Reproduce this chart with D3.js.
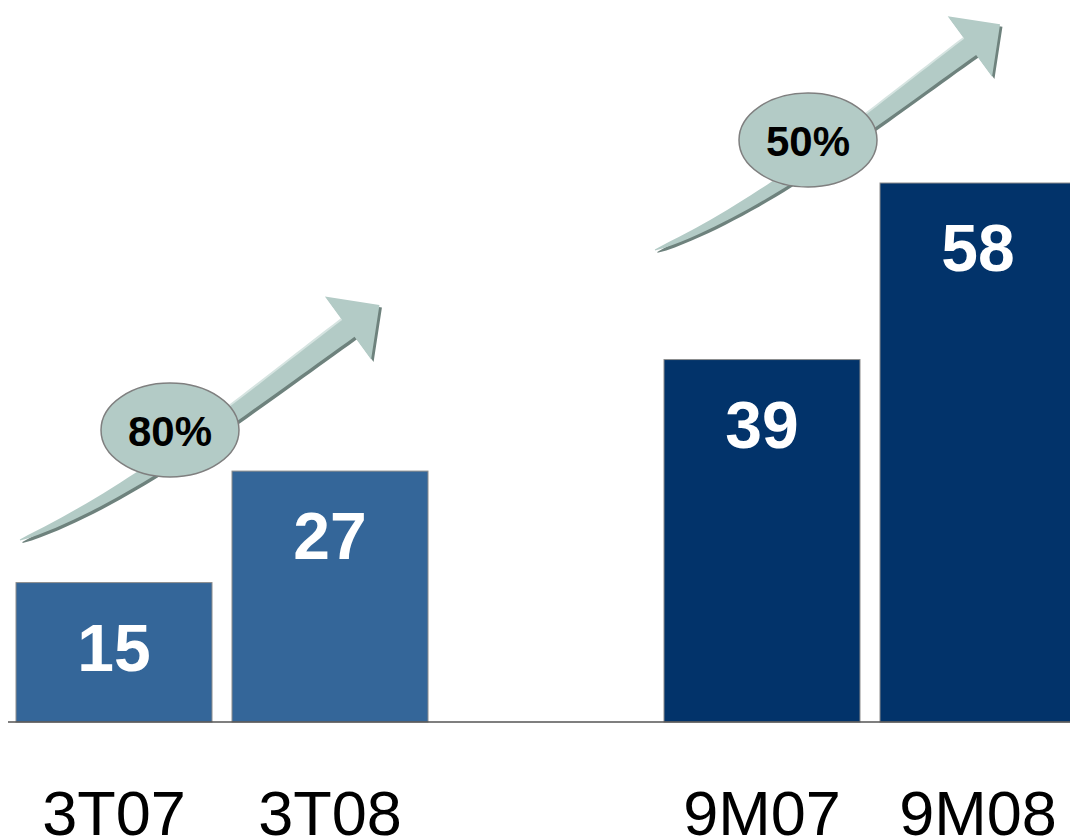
<!DOCTYPE html>
<html>
<head>
<meta charset="utf-8">
<script src="https://cdn.jsdelivr.net/npm/d3@7"></script>
<style>
  body { margin: 0; background: #fff; }
  text { font-family: "Liberation Sans", Arial, sans-serif; }
</style>
</head>
<body>
<script>
// Chart data
const categories = ["3T07", "3T08", " ", "9M07", "9M08"];
const values = [15, 27, null, 39, 58];
const barColors = ["#346699", "#346699", null, "#02336a", "#02336a"];
const growthLabels = ["80%", "50%"];

const width = 1070, height = 840;
const baseY = 722;

const svg = d3.select("body")
    .append("svg")
    .attr("width", width)
    .attr("height", height);

// Scales
const x = d3.scaleBand()
    .domain(categories)
    .range([-4, 1096])
    .paddingInner(20 / 216)
    .paddingOuter(20 / 216);

const y = d3.scaleLinear()
    .domain([0, 58])
    .range([baseY, 183]);

const bars = categories.map((c, i) => ({ cat: c, value: values[i], color: barColors[i] }))
    .filter(d => d.value != null);

// Curved growth arrow, drawn in local coords with tail at (0,0)
function arrowPolygon() {
  const P = [[0, 0], [115, -46], [230, -140], [328, -212]];
  const pts = [];
  const n = 40;
  let up = [], lo = [];
  for (let i = 0; i <= n; i++) {
    const t = i / n, u = 1 - t;
    const px = u*u*u*P[0][0] + 3*u*u*t*P[1][0] + 3*u*t*t*P[2][0] + t*t*t*P[3][0];
    const py = u*u*u*P[0][1] + 3*u*u*t*P[1][1] + 3*u*t*t*P[2][1] + t*t*t*P[3][1];
    const dx = 3*u*u*(P[1][0]-P[0][0]) + 6*u*t*(P[2][0]-P[1][0]) + 3*t*t*(P[3][0]-P[2][0]);
    const dy = 3*u*u*(P[1][1]-P[0][1]) + 6*u*t*(P[2][1]-P[1][1]) + 3*t*t*(P[3][1]-P[2][1]);
    const len = Math.hypot(dx, dy);
    const nx = -dy / len, ny = dx / len;
    const w = 1 + 21 * Math.pow(t, 0.6);
    up.push([px - nx * w / 2, py - ny * w / 2]);
    lo.push([px + nx * w / 2, py + ny * w / 2]);
  }
  // head
  const B = P[3];
  const dir = [P[3][0] - P[2][0], P[3][1] - P[2][1]];
  const dl = Math.hypot(dir[0], dir[1]);
  const d = [dir[0] / dl, dir[1] / dl];
  const nrm = [-d[1], d[0]];
  const h1 = [B[0] - nrm[0] * 39, B[1] - nrm[1] * 39];
  const h2 = [B[0] + nrm[0] * 39, B[1] + nrm[1] * 39];
  const tip = [B[0] + d[0] * 39, B[1] + d[1] * 39];
  return { poly: up.concat([h1, tip, h2]).concat(lo.reverse()), upper: up };
}

const arrow = arrowPolygon();
const polyLine = d3.line().curve(d3.curveLinearClosed);
const edgeLine = d3.line();

function drawArrow(tx, ty, s) {
  const g = svg.append("g").attr("transform", `translate(${tx},${ty}) scale(${s})`);
  g.append("path")
      .attr("d", polyLine(arrow.poly))
      .attr("transform", "translate(2.5,2.5)")
      .attr("fill", "#6e827d");
  g.append("path")
      .attr("d", polyLine(arrow.poly))
      .attr("fill", "#b3cbc6");
  g.append("path")
      .attr("d", edgeLine(arrow.upper.slice(20)))
      .attr("fill", "none")
      .attr("stroke", "#d6e4e1")
      .attr("stroke-width", 2);
}

drawArrow(20, 540, 1);
drawArrow(655, 250, 0.96);

// Growth ellipses
const ellipses = [[170, 430], [808, 140]];
ellipses.forEach((c, i) => {
  svg.append("ellipse")
      .attr("cx", c[0]).attr("cy", c[1])
      .attr("rx", 69).attr("ry", 47)
      .attr("fill", "#b3cbc6")
      .attr("stroke", "#7f7f7f")
      .attr("stroke-width", 1.5);
  svg.append("text")
      .attr("x", c[0]).attr("y", c[1] + 16)
      .attr("text-anchor", "middle")
      .style("font-size", "42px")
      .style("font-weight", "bold")
      .attr("fill", "#000")
      .text(growthLabels[i]);
});

// Bars
svg.selectAll("rect.bar")
    .data(bars)
    .enter()
    .append("rect")
    .attr("class", "bar")
    .attr("x", d => x(d.cat))
    .attr("y", d => y(d.value))
    .attr("width", x.bandwidth())
    .attr("height", d => y(0) - y(d.value))
    .attr("fill", d => d.color)
    .attr("stroke", "#8c8c8c")
    .attr("stroke-width", 1);

// Value labels
svg.selectAll("text.val")
    .data(bars)
    .enter()
    .append("text")
    .attr("class", "val")
    .attr("x", d => x(d.cat) + x.bandwidth() / 2)
    .attr("y", d => y(d.value) + 88)
    .attr("text-anchor", "middle")
    .style("font-size", "66px")
    .style("font-weight", "bold")
    .attr("fill", "#fff")
    .text(d => d.value);

// Baseline
svg.append("line")
    .attr("x1", 8).attr("x2", width)
    .attr("y1", y(0)).attr("y2", y(0))
    .attr("stroke", "#555")
    .attr("stroke-width", 1.5);

// Category axis
const xAxis = svg.append("g")
    .attr("transform", `translate(0,${y(0)})`)
    .call(d3.axisBottom(x).tickSize(0));
xAxis.select(".domain").remove();
xAxis.selectAll("text")
    .attr("y", 113)
    .attr("dy", null)
    .style("font-size", "63px")
    .style("font-family", "'Liberation Sans', Arial, sans-serif")
    .attr("fill", "#000");
</script>
</body>
</html>
